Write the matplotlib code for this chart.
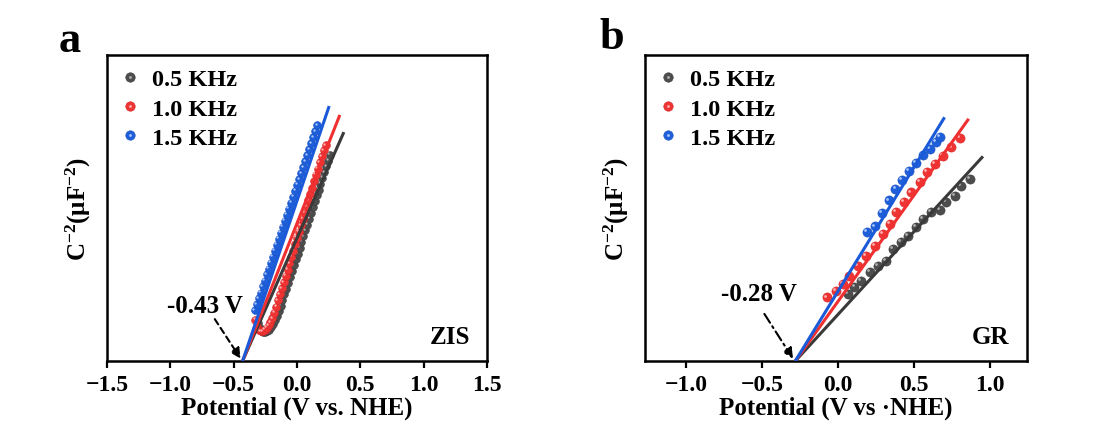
import numpy as np
import matplotlib
matplotlib.use('Agg')
import matplotlib.pyplot as plt
from matplotlib.transforms import ScaledTranslation
from matplotlib.legend_handler import HandlerTuple

plt.rcParams['font.family'] = ['Liberation Serif', 'DejaVu Serif']
plt.rcParams['font.weight'] = 'bold'
plt.rcParams['axes.labelweight'] = 'bold'
plt.rcParams['mathtext.fontset'] = 'custom'
plt.rcParams['mathtext.rm'] = 'Liberation Serif:bold'
plt.rcParams['mathtext.bf'] = 'Liberation Serif:bold'
plt.rcParams['mathtext.it'] = 'Liberation Serif:bold'

labels = ['0.5 KHz', '1.0 KHz', '1.5 KHz']

# ---- ZIS (panel a) ----
zis_x05 = [-0.31, -0.295, -0.28, -0.265, -0.25, -0.235, -0.22, -0.205, -0.19, -0.175,
           -0.16, -0.145, -0.13, -0.115, -0.10, -0.085, -0.07, -0.055, -0.04, -0.025,
           -0.01, 0.005, 0.02, 0.035, 0.05, 0.065, 0.08, 0.095, 0.11, 0.125,
           0.14, 0.155, 0.17, 0.185, 0.20, 0.215, 0.23, 0.245, 0.26]
zis_y05 = [1.25, 1.08, 0.98, 0.94, 0.94, 0.97, 1.03, 1.11, 1.21, 1.33,
           1.47, 1.63, 1.80, 1.99, 2.18, 2.37, 2.56, 2.75, 2.94, 3.13,
           3.32, 3.51, 3.70, 3.89, 4.08, 4.27, 4.46, 4.65, 4.84, 5.03,
           5.22, 5.41, 5.60, 5.79, 5.98, 6.17, 6.36, 6.55, 6.74]
zis_x10 = [-0.33, -0.315, -0.30, -0.285, -0.27, -0.255, -0.24, -0.225, -0.21, -0.195,
           -0.18, -0.165, -0.15, -0.135, -0.12, -0.105, -0.09, -0.075, -0.06, -0.045,
           -0.03, -0.015, 0.0, 0.015, 0.03, 0.045, 0.06, 0.075, 0.09, 0.105,
           0.12, 0.135, 0.15, 0.165, 0.18, 0.195, 0.21, 0.225]
zis_y10 = [1.35, 1.15, 1.03, 0.98, 0.98, 1.02, 1.09, 1.17, 1.27, 1.40,
           1.58, 1.78, 1.98, 2.18, 2.38, 2.58, 2.79, 2.99, 3.20, 3.40,
           3.61, 3.82, 4.02, 4.23, 4.44, 4.64, 4.85, 5.05, 5.26, 5.46,
           5.67, 5.87, 6.08, 6.28, 6.49, 6.69, 6.88, 7.05]
zis_x15 = [-0.335, -0.319, -0.303, -0.287, -0.271, -0.255, -0.239, -0.223, -0.207, -0.191,
           -0.175, -0.159, -0.143, -0.127, -0.111, -0.095, -0.079, -0.063, -0.047, -0.031,
           -0.015, 0.001, 0.017, 0.033, 0.049, 0.065, 0.081, 0.097, 0.113, 0.129,
           0.145, 0.161]
zis_y15 = [1.66, 1.85, 2.05, 2.24, 2.44, 2.63, 2.83, 3.02, 3.22, 3.41,
           3.61, 3.80, 4.00, 4.19, 4.39, 4.58, 4.78, 4.97, 5.17, 5.36,
           5.56, 5.75, 5.94, 6.14, 6.33, 6.53, 6.72, 6.92, 7.11, 7.31,
           7.50, 7.70]
zis_efb = -0.43
zis_slope = [9.35, 10.47, 12.18]
zis_xend = [0.37, 0.338, 0.254]

# ---- GR (panel b) ----
gr_x05 = [0.066, 0.110, 0.154, 0.209, 0.264, 0.319, 0.363, 0.418, 0.461,
          0.517, 0.560, 0.615, 0.670, 0.714, 0.769, 0.813, 0.868]
gr_y05 = [2.19, 2.41, 2.62, 2.90, 3.11, 3.28, 3.66, 3.90, 4.09,
          4.37, 4.64, 4.86, 4.94, 5.19, 5.40, 5.73, 5.95]
gr_x10 = [-0.070, -0.011, 0.033, 0.077, 0.132, 0.187, 0.242, 0.297, 0.345,
          0.385, 0.435, 0.484, 0.539, 0.587, 0.637, 0.692, 0.748, 0.802]
gr_y10 = [2.08, 2.30, 2.52, 2.79, 3.11, 3.44, 3.77, 4.15, 4.48,
          4.86, 5.19, 5.51, 5.84, 6.17, 6.44, 6.71, 6.98, 7.28]
gr_x15 = [0.194, 0.245, 0.29, 0.335, 0.38, 0.425, 0.47, 0.515, 0.56, 0.605, 0.645, 0.675]
gr_y15 = [4.23, 4.40, 4.85, 5.25, 5.62, 5.93, 6.20, 6.48, 6.72, 6.93, 7.15, 7.33]
gr_efb = -0.28
gr_slope = [5.41, 6.93, 8.10]
gr_xend = [0.956, 0.862, 0.703]

ball_cols = ['#4d4d4d', '#ef3434', '#1e5fd9']
ball_edge = ['#3a3a3a', '#d82424', '#184fc0']
ball_lite = ['#b0b0b0', '#ffb0b0', '#a8c4ff']
line_cols = ['#3a3a3a', '#f03030', '#1a5ad8']

fig = plt.figure(figsize=(10.93, 4.27), dpi=100)
ax1 = fig.add_axes([0.0979, 0.152, 0.3477, 0.717])
ax2 = fig.add_axes([0.590, 0.152, 0.3495, 0.717])


def balls(ax, x, y, i, ms):
    base, = ax.plot(x, y, 'o', ms=ms, mfc=ball_cols[i], mec=ball_edge[i], mew=0.4,
                    ls='none', zorder=2 + i)
    off = ScaledTranslation(-ms * 0.2 / 72, ms * 0.2 / 72, fig.dpi_scale_trans)
    ax.plot(x, y, 'o', ms=ms * 0.3, mfc=ball_lite[i], mec='none', ls='none',
            transform=ax.transData + off, zorder=2 + i)
    hl, = ax.plot([], [], 'o', ms=ms * 0.3, mfc=ball_lite[i], mec='none', ls='none')
    return (base, hl)


def panel(ax, xs, ys, efb, slopes, xends, ms, xlim, xticks, xlabel, name,
          note, note_xy, arrow_from, arrow_to, arrow_ls):
    handles = []
    for i in range(3):
        handles.append(balls(ax, xs[i], ys[i], i, ms))
    for i in range(3):
        xx = np.array([efb, xends[i]])
        ax.plot(xx, slopes[i] * (xx - efb), color=line_cols[i], lw=2.2, zorder=6 + i,
                solid_capstyle='butt')
    ax.set_xlim(*xlim)
    ax.set_ylim(0, 10)
    ax.set_xticks(xticks)
    ax.set_yticks([])
    ax.tick_params(axis='x', direction='out', length=5, width=1.6, labelsize=17, pad=4)
    for s in ax.spines.values():
        s.set_linewidth(1.8)
    ax.set_xlabel(xlabel, fontsize=18, labelpad=1)
    ax.set_ylabel(r'C$^{-2}$(μF$^{-2}$)', fontsize=18, labelpad=10)
    ax.legend(handles, labels, loc='upper left', frameon=False, fontsize=17.5,
              handler_map={tuple: HandlerTuple(ndivide=1)}, markerscale=6.8 / ms,
              handlelength=0.8, handletextpad=0.5, labelspacing=0.3,
              borderaxespad=0.25, borderpad=0.3)
    ax.text(0.955, 0.08, name, transform=ax.transAxes, ha='right', va='center', fontsize=18)
    ax.text(note_xy[0], note_xy[1], note, ha='center', va='center', fontsize=18)
    ax.annotate('', xy=arrow_to, xytext=arrow_from,
                arrowprops=dict(arrowstyle='-|>,head_length=0.6,head_width=0.3',
                                color='black', lw=1.5, ls=arrow_ls, shrinkA=0, shrinkB=0),
                zorder=10)


panel(ax1, [zis_x05, zis_x10, zis_x15], [zis_y05, zis_y10, zis_y15], zis_efb,
      zis_slope, zis_xend, 5.6, (-1.5, 1.5), np.arange(-1.5, 1.6, 0.5),
      'Potential (V vs. NHE)', 'ZIS', '-0.43 V', (-0.73, 1.83),
      (-0.649, 1.37), (-0.445, 0.08), (0, (3, 2)))
panel(ax2, [gr_x05, gr_x10, gr_x15], [gr_y05, gr_y10, gr_y15], gr_efb,
      gr_slope, gr_xend, 6.6, (-1.27, 1.245), np.arange(-1.0, 1.1, 0.5),
      'Potential (V vs ·NHE)', 'GR', '-0.28 V', (-0.52, 2.22),
      (-0.483, 1.54), (-0.295, 0.08), (0, (5, 2, 1, 2)))

fig.text(0.064, 0.904, 'a', fontsize=32, ha='center', va='center')
fig.text(0.560, 0.910, 'b', fontsize=32, ha='center', va='center')

fig.savefig('out.png', dpi=100)
